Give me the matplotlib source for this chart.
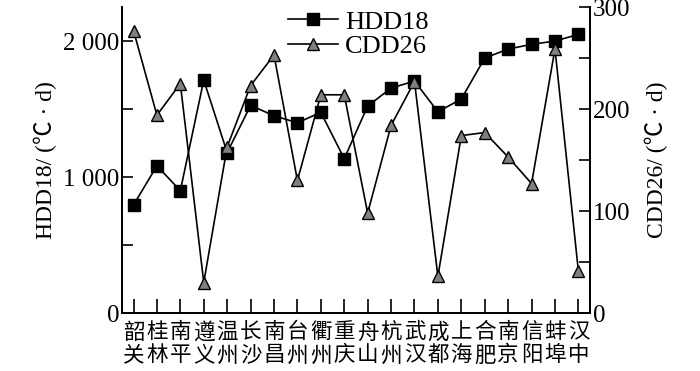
import matplotlib
matplotlib.use("Agg")
import matplotlib.pyplot as plt
from matplotlib.ticker import MultipleLocator, FixedLocator

cities = ['韶关', '桂林', '南平', '遵义', '温州', '长沙', '南昌', '台州', '衢州', '重庆',
          '舟山', '杭州', '武汉', '成都', '上海', '合肥', '南京', '信阳', '蚌埠', '汉中']
hdd18 = [795, 1083, 900, 1713, 1180, 1527, 1451, 1399, 1476, 1135,
         1522, 1654, 1706, 1480, 1574, 1875, 1941, 1976, 2000, 2049]
cdd26 = [277, 194, 225, 30, 163, 223, 253, 130, 214, 214,
         98, 184, 227, 36, 174, 177, 153, 127, 259, 41]

latin = ['Liberation Serif', 'Noto Sans CJK SC']
plt.rcParams['font.family'] = latin
plt.rcParams['font.size'] = 18

fig = plt.figure(figsize=(7, 3.71), dpi=100)
ax = fig.add_axes([0.174, 0.156, 0.669, 0.825])
ax2 = ax.twinx()

x = list(range(len(cities)))
l1, = ax.plot(x, hdd18, color='k', lw=1.2, marker='s', markersize=9,
              markerfacecolor='k', markeredgecolor='k', label='HDD18')
l2, = ax2.plot(x, cdd26, color='k', lw=1.2, marker='^', markersize=9,
               markerfacecolor='#808080', markeredgecolor='k', label='CDD26')

ax.set_xlim(-0.5, 19.5)
ax.set_ylim(0, 2250)
ax2.set_ylim(0, 300)

ax.yaxis.set_major_locator(FixedLocator([0, 1000, 2000]))
ax.yaxis.set_minor_locator(MultipleLocator(500))
ax.set_yticklabels(['0', '1 000', '2 000'])
ax2.yaxis.set_major_locator(MultipleLocator(100))
ax2.yaxis.set_minor_locator(MultipleLocator(50))

ax.set_xticks(x)
ax.set_xticklabels(['\n'.join(c) for c in cities], family=['Noto Sans CJK SC'],
                   fontsize=15.5, linespacing=1.05)

for a in (ax, ax2):
    a.spines['top'].set_visible(False)
    for s in a.spines.values():
        s.set_linewidth(1.3)
ax.tick_params(axis='both', which='both', direction='in', width=1.2, pad=2)
ax.tick_params(axis='y', which='both', length=8)
ax.tick_params(axis='x', length=10, pad=6)
ax2.tick_params(axis='y', which='both', direction='in', length=8, width=1.2, pad=2)

ax.set_ylabel('HDD18/ (℃ · d)', fontsize=17, labelpad=4)
ax2.set_ylabel('CDD26/ (℃ · d)', fontsize=17, labelpad=10)

ax.legend(handles=[l1, l2], loc='upper center', bbox_to_anchor=(0.505, 1.05),
          frameon=False, fontsize=19, handlelength=1.9, handletextpad=0.25,
          labelspacing=0.05, borderpad=0.2)

fig.savefig('out.png', dpi=100)
